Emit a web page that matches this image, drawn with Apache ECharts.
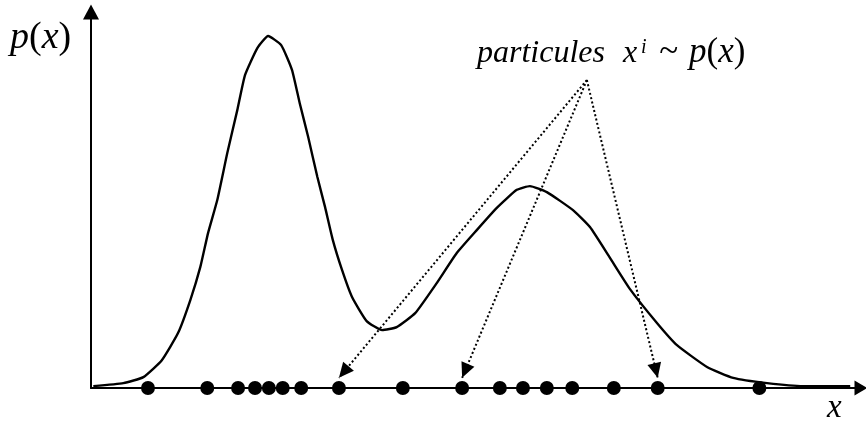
<!DOCTYPE html>
<html>
<head>
<meta charset="utf-8">
<script src="https://cdn.jsdelivr.net/npm/echarts@6/dist/echarts.min.js"></script>
<style>
  html, body { margin: 0; padding: 0; background: #fff; }
  #chart { width: 866px; height: 423px; }
</style>
</head>
<body>
<div id="chart"></div>
<script>
// Density curve p(x), sampled as [x, p] pairs
const densityX = [0.03, 0.42, 0.68, 0.92, 1.13, 1.29, 1.42, 1.52, 1.64, 1.77, 1.90, 2.00, 2.16, 2.30,
  2.47, 2.61, 2.71, 2.82, 2.94, 3.04, 3.14, 3.26, 3.39, 3.58, 3.78, 3.97, 4.21, 4.49, 4.75, 5.01,
  5.27, 5.53, 5.70, 5.92, 6.26, 6.48, 6.74, 7.00, 7.35, 7.61, 8.00, 8.34, 8.78, 9.25, 9.86];
const densityP = [0.005, 0.013, 0.029, 0.074, 0.146, 0.234, 0.322, 0.412, 0.500, 0.625, 0.739, 0.832, 0.904, 0.936,
  0.912, 0.846, 0.758, 0.668, 0.561, 0.481, 0.394, 0.314, 0.242, 0.178, 0.154, 0.162, 0.199, 0.279, 0.359, 0.420,
  0.479, 0.527, 0.537, 0.521, 0.473, 0.428, 0.346, 0.263, 0.173, 0.114, 0.056, 0.027, 0.013, 0.005, 0.005];

// Particle positions x^i drawn from p(x)
const particles = [0.74, 1.51, 1.91, 2.13, 2.31, 2.49, 2.73, 3.22, 4.05, 4.82, 5.31, 5.61, 5.92, 6.25, 6.79, 7.36, 8.68];

// Particles pointed at by the annotation, and where the annotation sits
const pointedParticles = [7, 9, 15];
const annotationAnchor = [6.44, 0.819];
const arrowTipHeight = 0.027;

const xMax = 10;
const yMax = 1;

const serif = 'Liberation Serif';

const curve = densityX.map((x, i) => [x, densityP[i]]);
const dots = particles.map(x => [x, 0]);
const arrows = pointedParticles.map(i => [
  { coord: annotationAnchor },
  { coord: [particles[i], arrowTipHeight] }
]);

const chart = echarts.init(document.getElementById('chart'), null, { renderer: 'canvas' });

chart.setOption({
  animation: false,
  backgroundColor: '#ffffff',
  grid: { left: 91, right: 5, top: 12, bottom: 35, outerBoundsMode: 'none', containLabel: false },
  xAxis: {
    type: 'value', min: 0, max: xMax,
    axisLine: { show: true, onZero: false, symbol: ['none', 'triangle'], symbolSize: [15, 13],
      lineStyle: { color: '#000', width: 2 } },
    axisTick: { show: false }, axisLabel: { show: false }, splitLine: { show: false }
  },
  yAxis: {
    type: 'value', min: 0, max: yMax,
    axisLine: { show: true, onZero: false, symbol: ['none', 'triangle'], symbolSize: [16, 15],
      lineStyle: { color: '#000', width: 2 } },
    axisTick: { show: false }, axisLabel: { show: false }, splitLine: { show: false }
  },
  series: [
    {
      type: 'line',
      data: curve,
      showSymbol: false,
      symbol: 'none',
      smooth: 0.15,
      lineStyle: { color: '#000', width: 2.4, join: 'round' },
      silent: true,
      z: 2
    },
    {
      type: 'scatter',
      data: dots,
      symbol: 'circle',
      symbolSize: 14,
      itemStyle: { color: '#000', opacity: 1 },
      silent: true,
      z: 4,
      markLine: {
        silent: true,
        symbol: ['none', 'triangle'],
        symbolSize: [14, 15],
        symbolOffset: [0, [0, '50%']],
        label: { show: false },
        lineStyle: { color: '#000', width: 2, type: [2, 2.4], opacity: 1 },
        emphasis: { disabled: true },
        data: arrows
      }
    }
  ],
  graphic: [
    {
      type: 'text',
      left: 10, top: 19,
      style: {
        text: '{i|p}{n|(}{i|x}{n|)}',
        fill: '#000',
        rich: {
          i: { fontFamily: serif, fontStyle: 'italic', fontSize: 38, fill: '#000' },
          n: { fontFamily: serif, fontSize: 38, fill: '#000' }
        }
      }
    },
    {
      type: 'text',
      left: 477, top: 35,
      style: {
        text: '{w|particules}{x|x}{t|~}{i|p}{n|(}{i|x}{n|)}',
        fill: '#000',
        rich: {
          w: { fontFamily: serif, fontStyle: 'italic', fontSize: 32, fill: '#000', verticalAlign: 'bottom' },
          x: { fontFamily: serif, fontStyle: 'italic', fontSize: 32, fill: '#000', verticalAlign: 'bottom', padding: [0, 0, 0, 18] },
          t: { fontFamily: serif, fontSize: 35, fill: '#000', verticalAlign: 'bottom', padding: [0, 11, 0, 22] },
          i: { fontFamily: serif, fontStyle: 'italic', fontSize: 35, fill: '#000', verticalAlign: 'bottom' },
          n: { fontFamily: serif, fontSize: 35, fill: '#000', verticalAlign: 'bottom' }
        }
      }
    },
    {
      // superscript index on x
      type: 'text',
      left: 641, top: 38,
      style: { text: 'i', fontFamily: serif, fontStyle: 'italic', fontSize: 20, fill: '#000' }
    },
    {
      type: 'text',
      left: 827, top: 392,
      style: { text: 'x', fontFamily: serif, fontStyle: 'italic', fontSize: 33, fill: '#000' }
    }
  ]
});
</script>
</body>
</html>
